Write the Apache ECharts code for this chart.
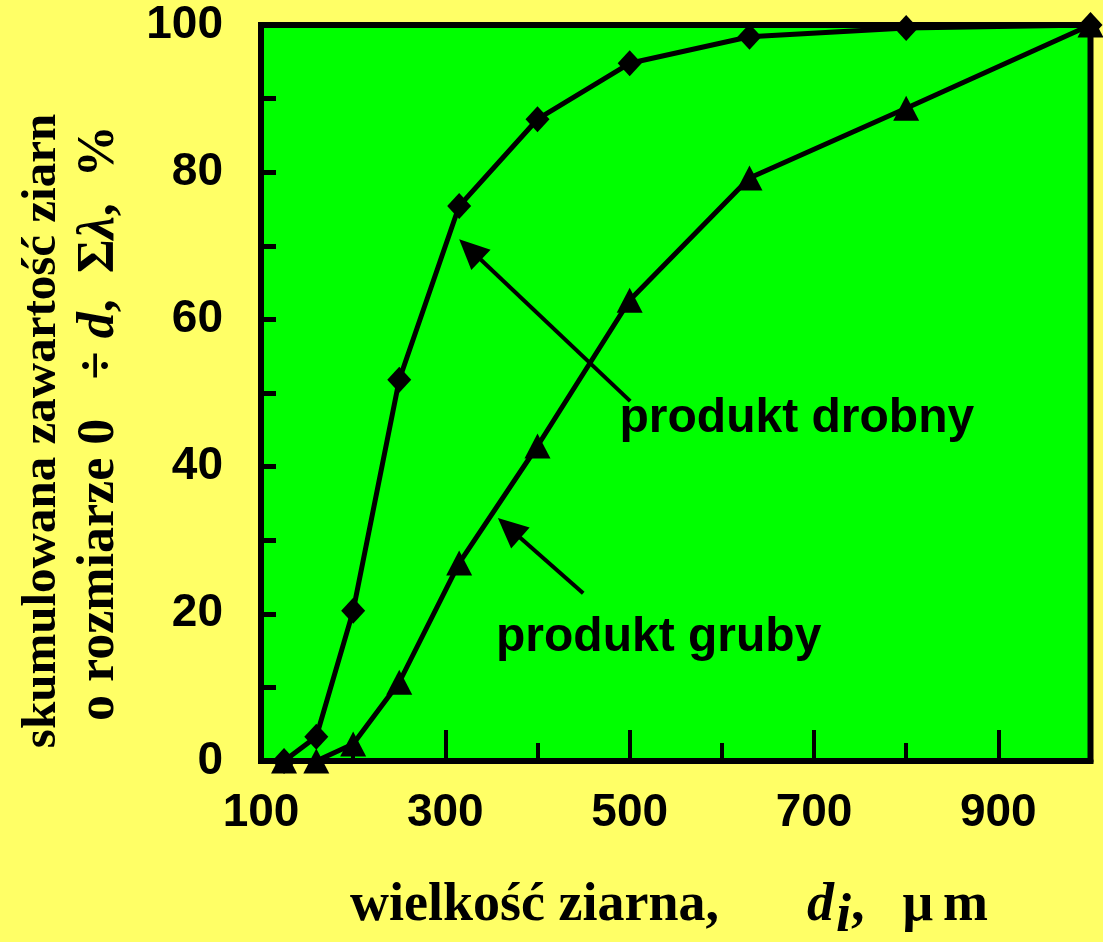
<!DOCTYPE html>
<html><head><meta charset="utf-8">
<script src="https://cdn.jsdelivr.net/npm/echarts@6/dist/echarts.min.js"></script>
<style>html,body{margin:0;padding:0;background:#FFFF66;}#c{width:1103px;height:942px;}</style>
</head><body><div id="c"></div>
<script>
// grain sizes (µm) and cumulative content (%)
const sizes  = [125, 160, 200, 250, 315, 400, 500, 630, 800, 1000];
const fine   = [0, 3.3, 20.4, 51.8, 75.4, 87.2, 94.8, 98.4, 99.6, 100];   // produkt drobny
const coarse = [0, 0, 2.3, 10.7, 26.9, 42.8, 62.6, 79.2, 88.7, 100];     // produkt gruby
const xTickLabels = [100, 300, 500, 700, 900];
const yTickLabels = [0, 20, 40, 60, 80, 100];
// annotations in data coordinates
const noteTexts = ['produkt drobny', 'produkt gruby'];
const noteAnchors = [[489, 46.5], [355, 16.8]];
const arrowTails = [[500.6, 48.9], [449.6, 22.8]];
const arrowTips  = [[315, 70.9], [357, 33.0]];

const chart = echarts.init(document.getElementById('c'));
const SANS = '"Liberation Sans", Arial, sans-serif';
const SERIF = '"Liberation Serif", "Times New Roman", serif';

const option = {
  backgroundColor: '#FFFF66',
  animation: false,
  grid: {left: 261, right: 12.5, top: 25, bottom: 181, show: true,
         backgroundColor: '#00FF00', borderColor: '#000', borderWidth: 6},
  xAxis: [{
    type: 'value', min: 100, max: 1000, interval: 200, position: 'bottom',
    axisLine: {show: true, lineStyle: {color: '#000', width: 6}},
    axisTick: {show: true, inside: true, length: 31, lineStyle: {color: '#000', width: 4}},
    splitLine: {show: false},
    axisLabel: {margin: 29, color: '#000', fontFamily: SANS, fontWeight: 'bold', fontSize: 46,
      formatter: v => xTickLabels.includes(v) ? String(v) : ''}
  }, {
    type: 'value', min: 100, max: 1000, interval: 100, position: 'bottom',
    axisLine: {show: false},
    axisTick: {show: true, inside: true, length: 18, lineStyle: {color: '#000', width: 4}},
    splitLine: {show: false}, axisLabel: {show: false}
  }],
  yAxis: {
    type: 'value', min: 0, max: 100, interval: 10,
    axisLine: {show: true, lineStyle: {color: '#000', width: 6}},
    axisTick: {show: true, inside: true, length: 15, lineStyle: {color: '#000', width: 5}},
    splitLine: {show: false},
    axisLabel: {margin: 38, color: '#000', fontFamily: SANS, fontWeight: 'bold', fontSize: 46,
      formatter: v => yTickLabels.includes(v) ? String(v) : ''}
  },
  series: [{
    name: 'produkt drobny', type: 'line', xAxisIndex: 0,
    data: sizes.map((s, i) => [s, fine[i]]),
    symbol: 'diamond', symbolSize: [24, 26],
    lineStyle: {color: '#000', width: 5}, itemStyle: {color: '#000'}, z: 5
  }, {
    name: 'produkt gruby', type: 'line', xAxisIndex: 0,
    data: sizes.map((s, i) => [s, coarse[i]]),
    symbol: 'triangle', symbolSize: [26, 25],
    lineStyle: {color: '#000', width: 5}, itemStyle: {color: '#000'}, z: 5
  }]
};
chart.setOption(option);

function px(p) { return chart.convertToPixel({xAxisIndex: 0, yAxisIndex: 0}, p); }

const graphics = [];
// arrows
for (let i = 0; i < arrowTips.length; i++) {
  const P = px(arrowTips[i]), T = px(arrowTails[i]);
  const dx = P[0] - T[0], dy = P[1] - T[1], d = Math.hypot(dx, dy);
  const ux = dx / d, uy = dy / d, nx = -uy, ny = ux;
  const L = 30, W = 14;
  const B = [P[0] - ux * L, P[1] - uy * L];
  graphics.push({type: 'line', z: 10, shape: {x1: T[0], y1: T[1], x2: B[0] + ux * 4, y2: B[1] + uy * 4},
    style: {stroke: '#000', lineWidth: 4}});
  graphics.push({type: 'polygon', z: 10,
    shape: {points: [P, [B[0] + nx * W, B[1] + ny * W], [B[0] - nx * W, B[1] - ny * W]]},
    style: {fill: '#000'}});
}
// annotation texts
for (let i = 0; i < noteTexts.length; i++) {
  const A = px(noteAnchors[i]);
  graphics.push({type: 'text', z: 10, x: A[0], y: A[1],
    style: {text: noteTexts[i], fill: '#000', font: 'bold 48px ' + SANS, align: 'left', verticalAlign: 'middle'}});
}
// y axis title (two lines)
graphics.push({type: 'text', z: 10, x: 42, y: 431, rotation: Math.PI / 2,
  style: {text: 'skumulowana zawartość ziarn', fill: '#000', font: 'bold 49px ' + SERIF,
          align: 'center', verticalAlign: 'middle'}});
graphics.push({type: 'text', z: 10, x: 100, y: 721, rotation: Math.PI / 2,
  style: {text: '{n|o rozmiarze 0   ÷ }{i|d}{n|,  Σ}{i|λ}{n|,  %}',
          align: 'left', verticalAlign: 'middle',
          rich: {n: {font: 'bold 52px ' + SERIF, fill: '#000'},
                 i: {font: 'italic bold 52px ' + SERIF, fill: '#000'}}}});
// x axis title
graphics.push({type: 'text', z: 10, x: 350, y: 906,
  style: {text: '{n|wielkość ziarna,}{d|d}{s|i}{n|,}{m|μ}{n|m}',
          align: 'left', verticalAlign: 'middle',
          rich: {n: {font: 'bold 54px ' + SERIF, fill: '#000'},
                 m: {font: 'bold 54px ' + SERIF, fill: '#000', padding: [0, 10, 0, 38]},
                 d: {font: 'italic bold 54px ' + SERIF, fill: '#000', padding: [0, 2, 0, 88]},
                 s: {font: 'italic bold 54px ' + SERIF, fill: '#000', padding: [22, 0, 0, 0]}}}});
chart.setOption({graphic: graphics});
</script></body></html>
